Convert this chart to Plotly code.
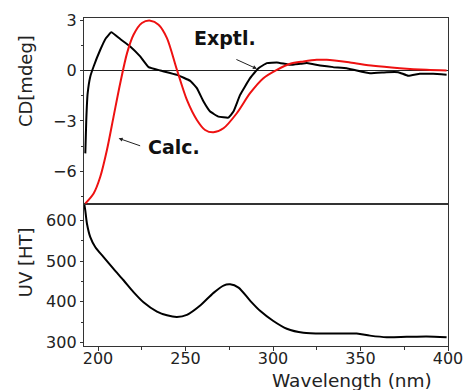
import plotly.graph_objects as go

# Experimental CD (black)
exp_wl = [192.75, 193.3, 194.1, 195.6, 197.5, 201.3, 204.5, 207.6, 212.7, 218.4, 224.1, 228.9,
          235.6, 245.1, 252.7, 256.5, 260.3, 264.1, 268.8, 274.5, 277.4, 281.2, 286.9, 291.7,
          296.5, 302.2, 309.8, 315.5, 319.3, 326.9, 334.5, 342.1, 347.8, 355.4, 365.0, 371.6,
          377.3, 383.9, 391.5, 399.2]
exp_cd = [-4.94, -2.94, -1.34, -0.34, 0.26, 1.26, 1.95, 2.30, 1.90, 1.46, 0.86, 0.22,
          0.02, -0.24, -0.60, -1.04, -1.84, -2.44, -2.74, -2.80, -2.44, -1.44, -0.44, 0.16,
          0.46, 0.50, 0.36, 0.42, 0.46, 0.32, 0.22, 0.16, 0.02, -0.14, -0.08, -0.08,
          -0.30, -0.18, -0.18, -0.24]

# Calculated CD (red)
calc_wl = [192.75, 197.5, 201.3, 205.1, 208.9, 212.7, 216.6, 220.3, 225.1, 229.9, 234.6,
           239.4, 245.1, 250.8, 256.5, 261.2, 266.0, 271.7, 279.3, 286.9, 294.5, 302.2,
           309.8, 317.4, 325.0, 330.7, 344.0, 357.3, 372.5, 387.8, 399.2]
calc_cd = [-7.94, -7.34, -6.34, -4.74, -2.74, -0.74, 1.06, 2.16, 2.86, 3.00, 2.76,
           1.96, 0.06, -1.74, -2.94, -3.54, -3.68, -3.44, -2.54, -1.34, -0.44, 0.06,
           0.42, 0.56, 0.66, 0.66, 0.50, 0.30, 0.16, 0.06, 0.02]

# UV (black)
uv_wl = [192.0, 192.75, 193.7, 195.6, 198.5, 203.2, 208.9, 214.6, 220.3, 226.0, 233.7,
         239.4, 245.1, 250.8, 258.4, 266.0, 271.7, 275.5, 280.3, 286.9, 292.6, 300.2,
         307.9, 317.4, 330.7, 347.8, 355.4, 365.0, 376.4, 387.8, 399.2]
uv_val = [645, 624, 592, 559, 534, 510, 481, 453, 424, 399, 376,
          367, 363, 368, 391, 422, 440, 443, 435, 403, 378, 353,
          334, 324, 322, 322, 317, 313, 314, 315, 313]

x_ticks = [200, 250, 300, 350, 400]
cd_ticks = [-6, -3, 0, 3]
uv_ticks = [300, 400, 500, 600]

AX = "#333333"
TICKFONT = dict(family="DejaVu Sans", size=16, color="#222222")

fig = go.Figure()
fig.add_trace(go.Scatter(x=exp_wl, y=exp_cd, mode="lines", xaxis="x2", yaxis="y",
                         line=dict(color="black", width=2, shape="spline", smoothing=0.3)))
fig.add_trace(go.Scatter(x=calc_wl, y=calc_cd, mode="lines", xaxis="x2", yaxis="y",
                         line=dict(color="#ee1111", width=2, shape="spline", smoothing=0.8)))
fig.add_trace(go.Scatter(x=uv_wl, y=uv_val, mode="lines", xaxis="x", yaxis="y2",
                         line=dict(color="black", width=2, shape="spline", smoothing=0.8)))

split = 0.4324
fig.update_layout(
    width=464, height=390,
    margin=dict(l=84, r=16, t=18, b=44),
    paper_bgcolor="white", plot_bgcolor="white",
    showlegend=False,
    xaxis=dict(domain=[0, 1], anchor="y2", range=[192, 400], tickvals=x_ticks,
               automargin=False, ticklabelstandoff=-6,
               showline=True, linecolor=AX, linewidth=1.3, mirror=True,
               ticks="outside", ticklen=4, tickcolor=AX, tickwidth=1,
               minor=dict(dtick=25, tick0=200, ticks="outside", ticklen=3, tickcolor=AX),
               showgrid=False, zeroline=False, tickfont=TICKFONT),
    xaxis2=dict(domain=[0, 1], anchor="y", matches="x", range=[192, 400],
                automargin=False,
                showline=True, linecolor=AX, linewidth=1.3, mirror=True,
                showticklabels=False, ticks="", showgrid=False, zeroline=False),
    yaxis=dict(domain=[split, 1], anchor="x2", range=[-7.98, 3.16], tickvals=cd_ticks,
               automargin=False,
               showline=True, linecolor=AX, linewidth=1.3, mirror=True,
               ticks="outside", ticklen=3, tickcolor=AX,
               minor=dict(dtick=1.5, tick0=0, ticks="outside", ticklen=2, tickcolor=AX),
               showgrid=False, zeroline=True, zerolinecolor="#222222", zerolinewidth=1,
               tickfont=TICKFONT),
    yaxis2=dict(domain=[0, split], anchor="x", range=[291.5, 640], tickvals=uv_ticks,
                automargin=False,
                showline=True, linecolor=AX, linewidth=1.3, mirror=True,
                ticks="outside", ticklen=3, tickcolor=AX,
                minor=dict(dtick=50, tick0=300, ticks="outside", ticklen=2, tickcolor=AX),
                showgrid=False, zeroline=False, tickfont=TICKFONT),
)

C = dict(xanchor="center", yanchor="middle", showarrow=False)
anns = [
    dict(text="CD[mdeg]", xref="paper", yref="paper", x=-0.162, y=0.8077, textangle=-90,
         font=dict(family="DejaVu Sans", size=18, color="#222222"), **C),
    dict(text="UV [HT]", xref="paper", yref="paper", x=-0.162, y=0.2554, textangle=-90,
         font=dict(family="DejaVu Sans", size=18, color="#222222"), **C),
    dict(text="Wavelength (nm)", xref="paper", yref="paper", x=0.737, y=-0.1047,
         font=dict(family="DejaVu Sans", size=18.5, color="#222222"), **C),
    dict(text="<b>Exptl.</b>", xref="x2", yref="y", x=272.4, y=1.95,
         font=dict(family="DejaVu Sans", size=19, color="#111111"), **C),
    dict(text="<b>Calc.</b>", xref="x2", yref="y", x=243.5, y=-4.53,
         font=dict(family="DejaVu Sans", size=19, color="#111111"), **C),
    dict(text="", xref="x2", yref="y", x=290.8, y=0.12, ax=-22, ay=-10,
         showarrow=True, arrowhead=2, arrowsize=0.8, arrowwidth=1, arrowcolor="#222222"),
    dict(text="", xref="x2", yref="y", x=211.8, y=-4.04, ax=23, ay=8,
         showarrow=True, arrowhead=2, arrowsize=0.8, arrowwidth=1, arrowcolor="#222222"),
]
fig.update_layout(annotations=anns)

fig.write_html("out.html", config={"displayModeBar": False},
               post_script="document.body.style.margin='0';")
